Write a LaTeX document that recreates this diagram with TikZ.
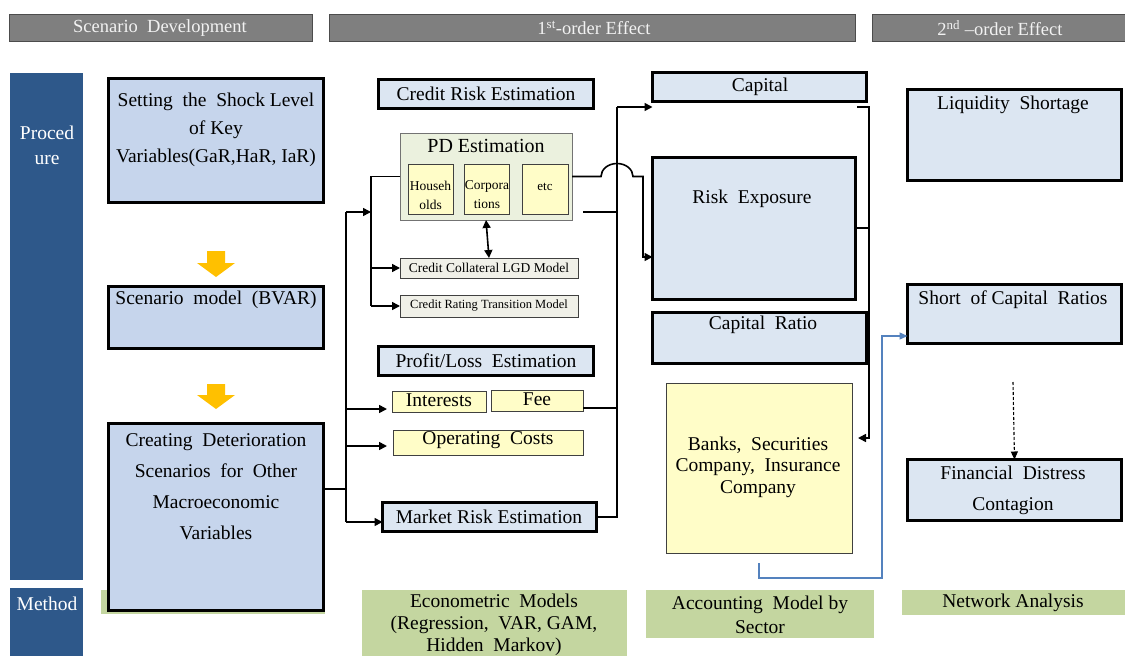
\documentclass[tikz,border=0pt]{standalone}
\usepackage{fontspec}
\setmainfont{Liberation Serif}
\usetikzlibrary{arrows.meta,calc}
\definecolor{hdrgray}{RGB}{127,127,127}
\definecolor{hdrtext}{RGB}{242,242,242}
\definecolor{sideblue}{RGB}{46,88,138}
\definecolor{leftfill}{RGB}{198,213,236}
\definecolor{rightfill}{RGB}{220,230,242}
\definecolor{yfill}{RGB}{255,253,200}
\definecolor{mgreen}{RGB}{196,214,160}
\definecolor{pdfill}{RGB}{235,241,222}
\definecolor{subfill}{RGB}{240,240,232}
\definecolor{blockorange}{RGB}{255,192,0}
\definecolor{linkblue}{RGB}{84,130,190}
\newcommand\fnt[2]{\fontsize{#1}{#2}\selectfont}
\begin{document}
\begin{tikzpicture}[x=1pt,y=1pt,
  every node/.style={inner sep=0pt,outer sep=0pt},
  area/.style 2 args={minimum width=#1pt,minimum height=#2pt,anchor=north west},
  hdr/.style={fill=hdrgray,draw=black!70,line width=0.8pt},
  hdrtxt/.style={text=hdrtext,font=\fnt{18.5}{22}},
  side/.style={fill=sideblue},
  sidetxt/.style={text=white,font=\fnt{19.5}{25},align=center},
  leftbox/.style={fill=leftfill,draw=black,line width=3pt},
  bluebox/.style={fill=rightfill,draw=black,line width=3pt},
  ybox/.style={fill=yfill,draw=black!75,line width=1pt},
  subbox/.style={fill=subfill,draw=black!75,line width=1pt},
  mbox/.style={fill=mgreen},
  txt/.style={font=\fnt{19.5}{23},align=center},
  tip/.style={},
  conn/.style={line width=1.6pt,black},
  arr/.style={conn,-{Triangle[length=8pt,width=8pt]}},
  darr/.style={conn,{Triangle[length=8pt,width=8pt]}-{Triangle[length=8pt,width=8pt]}},
  barr/.style={line width=1.3pt,linkblue,-{Triangle[length=8pt,width=7pt]}},
  dasharr/.style={line width=1.1pt,black,dash pattern=on 3pt off 2pt,-{Triangle[length=8pt,width=7pt]}},
  blockarrow/.style={fill=blockorange}]

\useasboundingbox (0,0) rectangle (1125,-656);
\fill[white] (0,0) rectangle (1125,-656);

% column headers
\node[hdr,area={303}{27}] (h1) at (9,-14) {};
\node[hdr,area={526}{27}] (h2) at (329,-14) {};
\node[hdr,area={260}{27}] (h3) at (872,-14) {};
\node[hdrtxt] (h1t) at (160,-28) {Scenario\ \ Development};
\node[hdrtxt] (h2t) at (594,-28) {1\textsuperscript{st}-order Effect};
\node[hdrtxt] (h3t) at (1000,-28) {2\textsuperscript{nd} –order Effect};

% row labels
\node[side,area={73}{507}] (proc) at (10,-73) {};
\node[sidetxt] (proct) at (47,-145) {Proced\\ure};
\node[side,area={73}{72}] (meth) at (10,-588) {};
\node[sidetxt] (metht) at (47,-604) {Method};

% method row
\node[mbox,area={224}{24}] (m1) at (101,-590) {};
\node[mbox,area={265}{70}] (m2) at (362,-590) {};
\node[txt,font=\fnt{19.5}{22}] (m2t) at (494,-625) {Econometric\ \ Models\\(Regression,\ \ VAR, GAM,\\Hidden\ \ Markov)};
\node[mbox,area={228}{48}] (m3) at (646,-590) {};
\node[txt,font=\fnt{19.5}{24}] (m3t) at (760,-615) {Accounting\ \ Model by\\Sector};
\node[mbox,area={230}{25}] (m4) at (902,-590) {};
\node[txt] (m4t) at (1013,-603) {Network Analysis};

% scenario development
\node[leftbox,area={215}{124}] (set) at (108.5,-78.5) {};
\node[txt,font=\fnt{19.5}{28}] (sett) at (216,-130) {Setting\ \ the\ \ Shock Level\\of Key\\Variables(GaR,HaR, IaR)};
\node[leftbox,area={215}{62}] (scen) at (108.5,-286.5) {};
\node[txt] (scent) at (216,-300) {Scenario\ \ model\ \ (BVAR)};
\node[leftbox,area={215}{187}] (create) at (108.5,-423.5) {};
\node[txt,font=\fnt{19.5}{31}] (createt) at (216,-487) {Creating\ \ Deterioration\\Scenarios\ \ for\ \ Other\\Macroeconomic\\Variables};

\fill[blockarrow] (207,-251) -- (225,-251) -- (225,-263) -- (235,-263) -- (216,-277) -- (197,-263) -- (207,-263) -- cycle;
\fill[blockarrow] (207,-384) -- (225,-384) -- (225,-395) -- (235,-395) -- (216,-409) -- (197,-395) -- (207,-395) -- cycle;

% first-order effect: credit risk
\node[bluebox,area={215}{29}] (credit) at (378.5,-79.5) {};
\node[txt] (creditt) at (486,-94) {Credit Risk Estimation};
\node[fill=pdfill,draw=black!55,line width=1pt,area={172}{87}] (pd) at (400,-133) {};
\node[txt,font=\fnt{20}{24}] (pdt) at (486,-146) {PD Estimation};
\node[ybox,area={45}{50}] (hh) at (408,-164) {};
\node[txt,font=\fnt{13.5}{19}] (hht) at (430.5,-195) {Househ\\olds};
\node[ybox,area={45}{50}] (corp) at (464,-164) {};
\node[txt,font=\fnt{13.5}{19}] (corpt) at (487,-195) {Corpora\\tions};
\node[ybox,area={46}{50}] (etc) at (522,-164) {};
\node[txt,font=\fnt{13}{16}] (etct) at (545,-187) {etc};
\node[subbox,area={178}{20}] (lgd) at (400,-258) {};
\node[txt,font=\fnt{13.5}{16}] (lgdt) at (489,-268) {Credit Collateral LGD Model};
\node[subbox,area={178}{22}] (rating) at (400,-295) {};
\node[txt,font=\fnt{12.5}{16}] (ratingt) at (489,-306) {Credit Rating Transition Model};

% first-order effect: profit / loss and market risk
\node[bluebox,area={215}{29}] (pl) at (378.5,-346.5) {};
\node[txt] (plt) at (486,-361) {Profit/Loss\ \ Estimation};
\node[ybox,area={94}{21}] (interests) at (392,-391) {};
\node[txt] (interestst) at (439,-400) {Interests};
\node[ybox,area={92}{21}] (fee) at (491,-390) {};
\node[txt] (feet) at (537,-399) {Fee};
\node[ybox,area={190}{25}] (costs) at (393,-430) {};
\node[txt] (costst) at (488,-440) {Operating\ \ Costs};
\node[bluebox,area={214}{29}] (market) at (382.5,-502.5) {};
\node[txt] (markett) at (489,-517) {Market Risk Estimation};

% first-order effect: balance sheet
\node[bluebox,area={214}{29}] (capital) at (652.5,-72.5) {};
\node[txt] (capitalt) at (760,-87) {Capital};
\node[bluebox,area={203}{142}] (risk) at (652.5,-157.5) {};
\node[txt] (riskt) at (752,-199) {Risk\ \ Exposure};
\node[bluebox,area={214}{51}] (ratio) at (652.5,-312.5) {};
\node[txt] (ratiot) at (763,-325) {Capital\ \ Ratio};
\node[ybox,area={186}{170}] (banks) at (666,-383) {};
\node[txt,font=\fnt{19.5}{21.5}] (bankst) at (758,-467) {Banks,\ \ Securities\\Company,\ \ Insurance\\Company};

% second-order effect
\node[bluebox,area={214}{91}] (liq) at (907.5,-89.5) {};
\node[txt] (liqt) at (1013,-105) {Liquidity\ \ Shortage};
\node[bluebox,area={214}{59}] (short) at (907.5,-284.5) {};
\node[txt] (shortt) at (1013,-300) {Short\ \ of Capital\ \ Ratios};
\node[bluebox,area={214}{61}] (fin) at (907.5,-459.5) {};
\node[txt,font=\fnt{19.5}{31}] (fint) at (1013,-490) {Financial\ \ Distress\\Contagion};

% scenario output to the estimation blocks
\coordinate (trunkTop) at (346,-212);
\coordinate (trunkBot) at (346,-522);
\coordinate (branch) at (371,-212);
\draw[conn] (create.east |- 0,-489) -- (trunkTop |- 0,-489);
\draw[conn] (trunkTop) -- (trunkBot);
\draw[arr] (trunkTop) -- (branch);
\draw[conn] (pd.west) -- (pd.west -| branch) -- (branch |- rating.west);
\draw[arr] (branch |- lgd.west) -- (lgd.west);
\draw[arr] (branch |- rating.west) -- (rating.west);
\draw[darr] (pd.south) -- (lgd.north);
\draw[arr] (trunkTop |- 0,-409) -- ([xshift=-5pt]interests.west |- 0,-409);
\draw[arr] (trunkTop |- 0,-446) -- ([xshift=-6pt]costs.west |- 0,-446);
\draw[arr] (trunkBot) -- (market.west |- trunkBot);

% estimation results to capital and risk exposure
\coordinate (colTop) at (617,-107);
\coordinate (crOut) at (583,-212);
\draw[conn] (market.east) -- (market.east -| colTop) -- (colTop);
\draw[arr] (colTop) -- (capital.south west |- colTop);
\draw[conn] (fee.east |- 0,-408) -- (colTop |- 0,-408);
\draw[conn] (crOut) -- (colTop |- crOut);
\draw[arr] (pd.east) -- (601,-176.5) arc[start angle=180,end angle=0,x radius=16,y radius=13] -- (643,-176.5) -- (643,-257) -- (risk.west |- 0,-257);

% balance sheet to the sector model
\draw[arr] (857,-107) -- (869,-107) -- (869,-438) -- ([xshift=6pt]banks.east |- 0,-438);
\draw[conn] (risk.east |- 0,-228) -- (869,-228);

% sector model to second-order effects
\draw[barr] ([yshift=-10pt]banks.south) -- ++(0,-15) -- (882,-578) -- (882,-336) -- (short.west |- 0,-336);
\draw[dasharr] (1013,-382) -- (fin.north);

\end{tikzpicture}
\end{document}
